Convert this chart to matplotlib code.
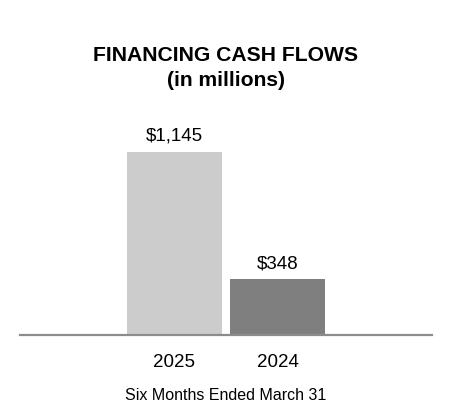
import matplotlib.pyplot as plt

plt.rcParams['font.family'] = ['Liberation Sans', 'DejaVu Sans']

years = ['2025', '2024']
values = [1145, 348]
labels = ['$1,145', '$348']
colors = ['#cccccc', '#7f7f7f']

fig = plt.figure(figsize=(4.52, 4.20), dpi=100)
ax = fig.add_axes([20/452, 85/420, 412/452, 224/420])

ax.bar([0, 1], values, width=0.92, color=colors)
for x, v, lab in zip([0, 1], values, labels):
    ax.text(x, v + 45, lab, ha='center', va='bottom', fontsize=13.5)

ax.set_xlim(-1.5, 2.5)
ax.set_ylim(0, 1400)
ax.set_xticks([0, 1])
ax.set_xticklabels(years, fontsize=13.5)
ax.tick_params(axis='x', length=0, pad=14)
ax.set_yticks([])
for s in ['top', 'left', 'right']:
    ax.spines[s].set_visible(False)
ax.spines['bottom'].set_color('#8c8c8c')
ax.spines['bottom'].set_linewidth(1.6)
ax.set_xlabel('Six Months Ended March 31', fontsize=11.5, labelpad=12)

fig.text(0.5, 1 - 68/420, 'FINANCING CASH FLOWS\n(in millions)', ha='center', va='center',
         fontsize=15.2, fontweight='bold', linespacing=1.45)

plt.savefig('out.png', dpi=100)
